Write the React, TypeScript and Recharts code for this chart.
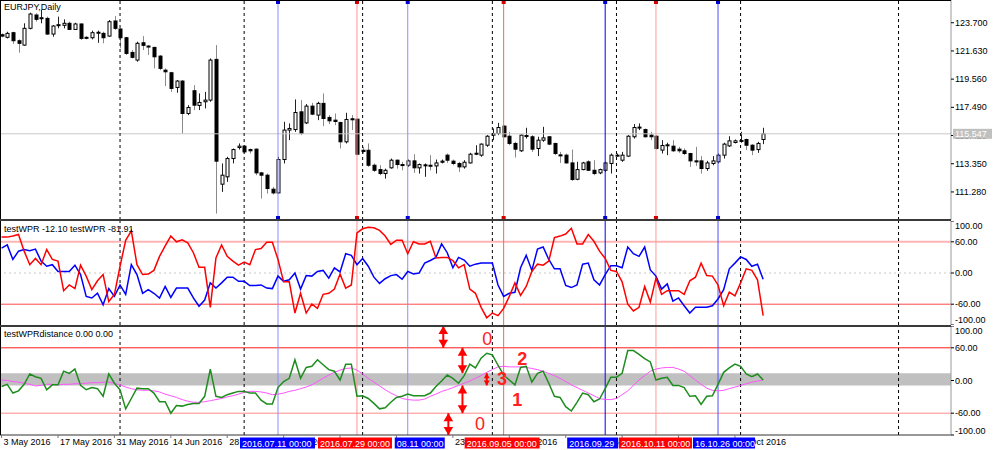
import React from "react"
import {
  ComposedChart, Bar, Line, XAxis, YAxis, ReferenceLine, ReferenceArea, ReferenceDot,
} from "recharts"

// ---- price panel (EURJPY daily, one entry per bar) ----
const opens = [
  122.82, 122.63, 122.97, 122.38, 122.06, 123.29, 124.27, 124.02, 124.02, 122.87,
  123.51, 123.51, 123.66, 123.21, 123.61, 122.63, 122.60, 122.95, 122.92, 122.72,
  123.83, 123.24, 122.60, 121.52, 120.96, 122.23, 121.99, 121.89, 121.25, 120.22,
  120.03, 118.95, 119.42, 117.04, 118.71, 117.63, 117.90, 118.02, 121.01, 111.85,
  112.39, 113.73, 114.54, 114.64, 114.39, 114.42, 112.68, 112.51, 111.48, 111.21,
  113.66, 115.82, 115.86, 117.16, 116.35, 117.58, 116.92, 117.78, 116.75, 116.55,
  116.38, 114.96, 116.65, 116.62, 114.34, 114.34, 113.24, 112.92, 112.63, 113.05,
  113.61, 113.29, 113.24, 113.56, 113.05, 113.22, 113.24, 113.19, 113.46, 113.98,
  113.54, 113.37, 113.12, 113.41, 114.08, 113.98, 114.71, 115.45, 115.57, 116.11,
  115.37, 114.84, 114.30, 115.37, 115.33, 114.47, 115.08, 115.33, 114.84, 114.00,
  113.98, 113.41, 112.21, 112.92, 113.49, 112.87, 112.68, 112.87, 113.37, 113.93,
  113.61, 113.91, 115.33, 115.99, 115.86, 115.45, 115.37, 114.35, 114.69, 114.64,
  114.42, 114.30, 114.10, 113.56, 113.56, 113.00, 113.37, 113.49, 113.98, 114.66,
  114.91, 115.01, 115.13, 114.71, 114.39, 115.13,
]
const highs = [
  122.92, 123.04, 123.04, 122.48, 123.66, 124.44, 124.39, 124.64, 124.15, 123.53,
  124.15, 123.95, 123.78, 123.70, 123.66, 122.72, 123.12, 123.12, 123.04, 123.90,
  124.19, 123.29, 122.67, 121.70, 122.31, 122.72, 122.06, 121.94, 121.33, 120.35,
  120.10, 119.49, 119.49, 117.65, 119.12, 118.51, 118.63, 121.08, 122.06, 113.37,
  113.86, 114.47, 114.84, 114.71, 114.47, 114.47, 112.75, 112.63, 111.65, 113.86,
  116.43, 116.31, 118.07, 118.02, 117.73, 117.82, 117.90, 118.51, 116.92, 117.04,
  116.43, 117.09, 116.92, 116.67, 114.59, 114.84, 113.37, 113.24, 112.99, 113.73,
  113.66, 113.49, 113.66, 114.05, 113.37, 113.37, 113.98, 113.66, 113.66, 114.10,
  113.66, 113.49, 113.61, 114.15, 114.71, 114.84, 115.45, 115.94, 116.35, 116.18,
  115.69, 114.96, 115.50, 115.99, 115.45, 115.33, 116.06, 115.37, 114.89, 114.22,
  114.10, 114.39, 113.49, 113.49, 113.61, 113.61, 112.99, 113.49, 114.10, 114.10,
  114.22, 115.45, 116.26, 116.31, 115.94, 115.69, 115.45, 115.08, 114.89, 115.08,
  114.59, 114.47, 114.15, 114.59, 113.91, 113.56, 113.91, 114.10, 114.89, 115.37,
  115.13, 115.69, 115.20, 114.79, 114.96, 115.99,
]
const lows = [
  122.63, 122.55, 122.14, 121.50, 122.01, 123.21, 123.78, 123.66, 122.80, 122.67,
  123.29, 123.29, 123.17, 123.17, 122.43, 122.48, 122.48, 122.23, 122.19, 122.67,
  123.17, 121.82, 121.33, 121.08, 120.84, 121.70, 121.33, 120.35, 120.22, 119.05,
  118.63, 118.56, 115.57, 116.92, 117.29, 117.29, 117.41, 117.90, 109.69, 111.28,
  112.02, 113.37, 114.39, 114.10, 114.10, 112.51, 110.79, 111.16, 111.09, 111.16,
  113.37, 115.08, 115.69, 115.45, 116.26, 116.92, 116.55, 116.11, 116.26, 116.18,
  114.47, 114.84, 115.82, 113.98, 114.10, 113.12, 112.75, 112.51, 112.26, 112.99,
  112.99, 112.87, 113.12, 112.68, 112.63, 112.39, 112.87, 112.63, 113.37, 113.41,
  113.24, 112.75, 112.99, 113.37, 113.98, 113.86, 114.59, 115.08, 115.45, 115.28,
  114.71, 113.81, 114.22, 115.20, 114.22, 113.91, 114.96, 114.71, 113.98, 113.41,
  113.37, 112.09, 112.14, 112.87, 112.83, 112.51, 112.58, 112.75, 112.63, 113.86,
  113.49, 113.86, 115.20, 115.82, 115.28, 115.08, 114.39, 114.10, 113.98, 114.22,
  114.15, 113.98, 113.12, 113.19, 112.63, 112.83, 113.24, 113.37, 113.73, 114.59,
  114.84, 114.89, 114.35, 113.98, 114.15, 114.79,
]
const closes = [
  122.72, 122.92, 122.38, 122.19, 123.29, 124.34, 123.95, 124.07, 122.87, 123.46,
  123.56, 123.66, 123.21, 123.61, 122.55, 122.58, 122.97, 123.00, 122.60, 123.78,
  123.29, 122.60, 121.45, 121.16, 122.19, 122.04, 121.94, 121.20, 120.35, 120.10,
  118.88, 119.42, 117.04, 117.48, 117.65, 117.85, 118.02, 120.96, 113.54, 112.51,
  113.73, 114.39, 114.64, 114.22, 114.30, 112.68, 112.51, 111.53, 111.21, 113.66,
  115.82, 115.94, 117.11, 115.57, 117.58, 116.99, 117.78, 116.67, 116.50, 116.45,
  114.96, 116.60, 116.60, 114.05, 114.25, 113.24, 112.87, 112.63, 112.87, 113.61,
  113.29, 113.24, 113.56, 113.05, 113.29, 113.27, 113.22, 113.41, 113.54, 113.61,
  113.37, 113.12, 113.46, 114.05, 114.12, 114.79, 115.37, 115.57, 116.01, 115.33,
  114.84, 114.42, 115.45, 115.42, 114.42, 115.08, 115.25, 114.79, 114.10, 113.95,
  113.41, 112.19, 112.92, 113.41, 112.87, 112.63, 112.92, 113.41, 113.98, 113.98,
  113.98, 115.37, 116.01, 116.04, 115.33, 115.33, 114.47, 114.69, 114.74, 114.30,
  114.30, 114.10, 113.56, 113.49, 113.00, 113.41, 113.56, 113.98, 114.79, 115.03,
  115.03, 115.06, 114.71, 114.35, 114.84, 115.547,
]
const lastPrice = 115.547
const priceTicks = [111.28, 113.35, 115.42, 117.49, 119.56, 121.63, 123.7]

// ---- testWPR panel ----
const wprBlue = [
  48, 54, 26, 42, 45, 43, 46, 23, 13, 16,
  3, 3, 3, 15, -3, -45, -48, -39, -61, -30,
  -45, -23, -41, 16, -3, -39, -32, -39, -48, -26,
  -47, -29, -29, -29, -48, -64, -52, -19, -29, -19,
  -8, -8, -16, -16, -24, -24, -23, -29, -30, -6,
  -16, -13, 0, -31, -5, -6, 3, 5, -10, 10,
  2, 37, 34, 16, 28, 13, -8, -20, -11, -5,
  -3, -12, 3, -2, 0, 19, 24, 30, 56, 39,
  10, 30, 25, 13, 17, 19, 19, 19, -23, -45,
  -39, -37, 10, 34, 5, 46, 50, 26, 8, 8,
  -24, -28, -23, 17, 19, -13, -23, -3, 14, 14,
  10, 50, 37, 32, 50, 6, -6, -31, -21, -54,
  -48, -63, -77, -66, -66, -66, -63, -50, -32, 8,
  19, 31, 26, 13, 17, -12.1,
]
const wprRed = [
  69, 69, 71, 74, 42, 16, 28, 16, 45, 26,
  23, -34, -23, -30, 15, -6, -32, -15, -3, -55,
  -41, 13, 63, 81, 16, -3, -2, 5, 32, 52,
  71, 60, 64, 58, 39, 11, 11, -66, 29, 54,
  32, 23, 15, 21, 16, 45, 47, 59, 59, 26,
  -17, -17, -77, -39, -77, -60, -68, -41, -39, -31,
  -2, -29, -23, 77, 85, 88, 87, 82, 71, 55,
  63, 63, 37, 60, 56, 56, 61, 29, 30, 30,
  24, 10, 16, -31, -39, -66, -86, -77, -82, -68,
  -45, -19, -43, -26, 3, 17, 15, 23, 68, 71,
  75, 86, 56, 56, 74, 61, 42, 28, 5, 3,
  -17, -60, -73, -66, -26, -56, -10, -41, -34, -34,
  -34, -41, -15, -8, 19, -5, -6, -23, -63, -37,
  -44, -19, 8, 5, -13, -81.91,
]
const wprTicks = [-100, -60, 0, 60, 100]

// ---- testWPRdistance panel ----
const distGreen = [
  -11, -7, -23, -19, -7, 12, 7, 4, -17, -8,
  -8, 17, 13, 21, -9, -17, -13, -15, -29, 12,
  -5, -17, -52, -33, -14, -15, -15, -23, -39, -39,
  -60, -46, -47, -44, -42, -42, -29, 21, -29, -31,
  -26, -23, -20, -20, -23, -23, -36, -43, -43, -13,
  -2, 4, 38, 4, 24, 26, 38, 29, 20, 17,
  1, 30, 30, -29, -28, -33, -42, -52, -50, -40,
  -31, -29, -25, -28, -28, -28, -23, -11, -1, 10,
  4, -5, 9, 30, 23, 41, 50, 47, 28, 10,
  1, -8, 24, 26, -3, 13, 17, -5, -29, -31,
  -48, -56, -40, -23, -26, -39, -34, -15, 6, 6,
  13, 55, 55, 48, 40, 34, 1, 4, 6, -9,
  -9, -13, -29, -28, -44, -29, -28, -7, 15, 23,
  30, 26, 12, 7, 12, 1,
]
const distMa = [
  1, 0, -2, -3, -5, -7, -10, -9, -7, -7,
  -8, -7, -7, -6, -6, -5, -4, -4, -3, -3,
  -5, -8, -12, -15, -17, -18, -18, -19, -21, -25,
  -28, -31, -35, -38, -40, -40, -39, -37, -35, -33,
  -30, -28, -25, -22, -20, -20, -21, -23, -26, -25,
  -23, -20, -18, -15, -12, -8, -2, 4, 10, 15,
  19, 22, 23, 19, 12, 4, -3, -10, -17, -23,
  -28, -33, -35, -36, -36, -34, -29, -25, -20, -17,
  -13, -9, -5, -1, 4, 9, 15, 20, 25, 26,
  25, 25, 25, 24, 22, 20, 17, 13, 9, 4,
  -2, -8, -13, -18, -23, -28, -33, -35, -35, -33,
  -26, -19, -9, 1, 9, 17, 21, 23, 24, 24,
  21, 17, 9, 1, -7, -14, -18, -19, -18, -15,
  -12, -9, -6, -3, -1, 1,
]
const bandTop = 13.5
const bandBottom = -9

// ---- time axis ----
const tickIdx = [0, 10, 20, 30, 40, 50, 60, 70, 80, 90, 100, 110, 120, 130]
const tickLabels = [
  "3 May 2016", "17 May 2016", "31 May 2016", "14 Jun 2016", "28 Jun 2016", "12 Jul 2016",
  "26 Jul 2016", "9 Aug 2016", "23 Aug 2016", "6 Sep 2016", "20 Sep 2016", "4 Oct 2016",
  "17 Oct 2016", "31 Oct 2016",
]
const monthSeps = [21, 43, 64, 87, 109, 131, 159]

// vertical event lines
const eventIdx = [49, 63, 72, 89, 107, 116, 127]
const eventKind = ["buy", "sell", "buy", "sell", "buy", "sell", "buy"]
const eventText = [
  "2016.07.11 00:00", "2016.07.29 00:00", "08.11 00:00", "2016.09.05 00:00",
  "2016.09.29", "2016.10.11 00:00", "16.10.26 00:00",
]

// hand-drawn annotations in the distance panel
const arrowX = [78.3, 81.7, 86.0, 81.7, 79.2]
const arrowFrom = [100, 60, bandTop, bandBottom, -60]
const arrowTo = [60, bandTop, bandBottom, -60, -100]
const noteText = ["0", "2", "3", "1", "0"]
const noteX = [86.1, 92.3, 88.7, 91.4, 84.8]
const noteY = [77.7, 40, 3, -34, -78.8]

// ---- styling ----
const X_DOMAIN = [-0.28, 168.3]
const PRICE_DOMAIN = [109.22, 125.37]
const AXIS_W = 49
const FONT = "'Liberation Sans', Arial, sans-serif"
const lineTone = ["#8c8cff", "#ff9090", "#8c8cff", "#ff6060", "#0000ff", "#ff9c9c", "#5050ff"]
const boxDx = [-38, -39, -13, -39, -38, -37, -25]
const boxW = [75, 74, 50, 75, 51, 73, 62]
const arrowHead = [8, 8, 5, 8, 8]
const noteBold = [false, true, true, true, false]

const candles = opens.map((o, i) => ({ i, o, h: highs[i], l: lows[i], c: closes[i] }))
const wpr = wprBlue.map((b, i) => ({ i, blue: b, red: wprRed[i] }))
const dist = distGreen.map((g, i) => ({ i, green: g, ma: distMa[i] }))

const Candle = (props: any) => {
  const { x, y, width, height, payload } = props
  if (x == null || payload == null) return null
  const cx = Math.round(x + width / 2) + 0.5
  const top = Math.min(y, y + height)
  const bot = Math.max(y, y + height)
  const k = payload.h > payload.l ? (bot - top) / (payload.h - payload.l) : 0
  const yO = top + (payload.h - payload.o) * k
  const yC = top + (payload.h - payload.c) * k
  const bull = payload.c >= payload.o
  const bt = Math.min(yO, yC)
  const bh = Math.max(Math.abs(yO - yC), 1)
  return (
    <g>
      <line x1={cx} x2={cx} y1={top} y2={bot} stroke={bull ? "#222" : "#8a8a8a"} strokeWidth={1} />
      <rect x={cx - 1.5} y={bt} width={3} height={bh} fill={bull ? "#fff" : "#000"} stroke="#000" strokeWidth={1} />
    </g>
  )
}

const rightTick = (digits: number, minY: number, maxY: number) => (p: any) => {
  const ty = Math.min(Math.max(p.y, minY), maxY)
  return (
    <text x={p.x} y={ty} dy="0.35em" textAnchor="start" fontSize={9} fill="#000">
      {Number(p.payload.value).toFixed(digits)}
    </text>
  )
}

const timeTick = (p: any) => {
  const k = tickIdx.indexOf(p.payload.value)
  return (
    <text x={p.x + 2} y={p.y} dy="0.71em" textAnchor="start" fontSize={9} fill="#000">
      {k >= 0 ? tickLabels[k] : ""}
    </text>
  )
}

const Squares = (p: any) => {
  const { x, y, height } = p.viewBox
  const fill = p.kind === "buy" ? "#0000d0" : "#d00000"
  return (
    <g>
      <rect x={x - 2} y={y} width={4} height={4} fill={fill} />
      <rect x={x - 2} y={y + height - 4} width={4} height={4} fill={fill} />
    </g>
  )
}

const TimeBox = (p: any) => {
  const { x, y, height } = p.viewBox
  const fill = p.kind === "buy" ? "#0000ff" : "#ff0000"
  const bx = x + p.dx
  const by = y + height + 2.5
  return (
    <g>
      <rect x={bx} y={by} width={p.w} height={11} fill={fill} />
      <text x={bx + 2} y={by + 9} fontSize={9} fill="#fff">{p.text}</text>
    </g>
  )
}

const PriceBox = (p: any) => {
  const { x, y, width } = p.viewBox
  return (
    <g>
      <rect x={x + width + 2} y={y - 5} width={39} height={10} fill="#c0c0c0" />
      <text x={x + width + 4} y={y + 3.5} fontSize={9} fill="#fff">{lastPrice.toFixed(3)}</text>
    </g>
  )
}

const head = (dir: number, size: number) => (p: any) => (
  <polygon
    points={`${p.cx},${p.cy} ${p.cx - size * 0.6},${p.cy + dir * size} ${p.cx + size * 0.6},${p.cy + dir * size}`}
    fill="#ff0000"
  />
)

const note = (text: string, bold: boolean) => (p: any) => (
  <text x={p.cx} y={p.cy} dy="0.36em" textAnchor="middle" fontSize={18}
    fontWeight={bold ? "bold" : "normal"} fill="#ff2020">{text}</text>
)

function separators() {
  return monthSeps.map((i) => (
    <ReferenceLine key={"s" + i} x={i} stroke="#000" strokeDasharray="3 3" />
  ))
}

const legend: React.CSSProperties = {
  position: "absolute", left: 4, fontSize: 9, lineHeight: "10px", color: "#000", whiteSpace: "nowrap",
}
const layer = (top: number): React.CSSProperties => ({ position: "absolute", left: 0, top })

export default function App() {
  return (
    <div style={{ position: "absolute", left: 0, top: 0, width: 1000, height: 450, background: "#fff", overflow: "hidden", fontFamily: FONT }}>
      {/* main price panel */}
      <div style={layer(0)}>
        <ComposedChart width={1000} height={220} data={candles} margin={{ top: 0, right: 0, bottom: 0, left: 0 }}>
          <XAxis type="number" dataKey="i" domain={X_DOMAIN} allowDataOverflow hide />
          <YAxis orientation="right" domain={PRICE_DOMAIN} ticks={priceTicks} allowDataOverflow interval={0}
            width={AXIS_W} tickSize={3} tickMargin={1} axisLine={{ stroke: "#999" }} tickLine={{ stroke: "#000" }}
            tick={rightTick(3, 5, 215)} />
          <ReferenceLine y={lastPrice} stroke="#c8c8c8" />
          <Bar dataKey={(d: any) => [d.l, d.h]} shape={<Candle />} barSize={4} isAnimationActive={false} />
          {separators()}
          {eventIdx.map((i, k) => (
            <ReferenceLine key={"e" + i} x={i} stroke={lineTone[k]} strokeWidth={1}
              label={<Squares kind={eventKind[k]} />} />
          ))}
        </ComposedChart>
      </div>

      {/* testWPR panel */}
      <div style={layer(221)}>
        <ComposedChart width={1000} height={104} data={wpr} margin={{ top: 0, right: 0, bottom: 0, left: 0 }}>
          <XAxis type="number" dataKey="i" domain={X_DOMAIN} allowDataOverflow hide />
          <YAxis orientation="right" domain={[-100, 100]} ticks={wprTicks} allowDataOverflow interval={0}
            width={AXIS_W} tickSize={3} tickMargin={1} axisLine={{ stroke: "#999" }} tickLine={{ stroke: "#000" }}
            tick={rightTick(2, 4.5, 99)} />
          <ReferenceLine y={60} stroke="#ffb4b4" strokeWidth={2} />
          <ReferenceLine y={0} stroke="#c8c8c8" strokeDasharray="2 3" />
          <ReferenceLine y={-60} stroke="#ff4a4a" />
          {separators()}
          {eventIdx.map((i, k) => (
            <ReferenceLine key={"e" + i} x={i} stroke={lineTone[k]} />
          ))}
          <Line dataKey="blue" stroke="#0000ff" strokeWidth={1.5} dot={false} isAnimationActive={false} />
          <Line dataKey="red" stroke="#ff0000" strokeWidth={1.5} dot={false} isAnimationActive={false} />
        </ComposedChart>
      </div>

      {/* testWPRdistance panel */}
      <div style={layer(326)}>
        <ComposedChart width={1000} height={124} data={dist} margin={{ top: 0, right: 0, bottom: 0, left: 0 }}>
          <XAxis type="number" dataKey="i" domain={X_DOMAIN} allowDataOverflow ticks={tickIdx} interval={0}
            height={15} tickSize={3} tickMargin={1} axisLine={{ stroke: "#333" }} tickLine={{ stroke: "#777" }}
            tick={timeTick} />
          <YAxis orientation="right" domain={[-100, 100]} ticks={wprTicks} allowDataOverflow interval={0}
            width={AXIS_W} tickSize={3} tickMargin={1} axisLine={{ stroke: "#999" }} tickLine={{ stroke: "#000" }}
            tick={rightTick(2, 5, 104.5)} />
          <ReferenceArea y1={bandBottom} y2={bandTop} fill="#c0c0c0" fillOpacity={1} stroke="none" />
          <ReferenceLine y={60} stroke="#ff1a1a" />
          <ReferenceLine y={-60} stroke="#ff8a8a" />
          {separators()}
          {eventIdx.map((i, k) => (
            <ReferenceLine key={"e" + i} x={i} stroke={lineTone[k]} />
          ))}
          <Line dataKey="ma" stroke="#ff55ff" strokeWidth={1} dot={false} isAnimationActive={false} />
          <Line dataKey="green" stroke="#1e8c1e" strokeWidth={1.5} dot={false} isAnimationActive={false} />
          {arrowX.map((x, k) => (
            <ReferenceLine key={"a" + k} ifOverflow="visible" stroke="#ff0000" strokeWidth={2}
              segment={[{ x, y: arrowFrom[k] }, { x, y: arrowTo[k] }]} />
          ))}
          {arrowX.map((x, k) => (
            <ReferenceDot key={"ht" + k} x={x} y={arrowFrom[k]} ifOverflow="visible" shape={head(1, arrowHead[k])} />
          ))}
          {arrowX.map((x, k) => (
            <ReferenceDot key={"hb" + k} x={x} y={arrowTo[k]} ifOverflow="visible" shape={head(-1, arrowHead[k])} />
          ))}
          {noteText.map((t, k) => (
            <ReferenceDot key={"n" + k} x={noteX[k]} y={noteY[k]} ifOverflow="visible" shape={note(t, noteBold[k])} />
          ))}
        </ComposedChart>
      </div>

      {/* overlay layers: time-axis event tags and the price tag sit above the axis labels */}
      <div style={layer(326)}>
        <ComposedChart width={1000} height={124} data={dist} margin={{ top: 0, right: AXIS_W, bottom: 15, left: 0 }}>
          <XAxis type="number" dataKey="i" domain={X_DOMAIN} allowDataOverflow hide />
          <YAxis domain={[-100, 100]} allowDataOverflow hide />
          {eventIdx.map((i, k) => (
            <ReferenceLine key={"t" + i} x={i} strokeOpacity={0}
              label={<TimeBox kind={eventKind[k]} text={eventText[k]} dx={boxDx[k]} w={boxW[k]} />} />
          ))}
        </ComposedChart>
      </div>
      <div style={layer(0)}>
        <ComposedChart width={1000} height={220} data={candles} margin={{ top: 0, right: AXIS_W, bottom: 0, left: 0 }}>
          <XAxis type="number" dataKey="i" domain={X_DOMAIN} allowDataOverflow hide />
          <YAxis domain={PRICE_DOMAIN} allowDataOverflow hide />
          <ReferenceLine y={lastPrice} strokeOpacity={0} label={<PriceBox />} />
        </ComposedChart>
      </div>

      {/* frame and panel separators */}
      <div style={{ position: "absolute", left: 0, top: 0, width: 951, height: 435, borderLeft: "1px solid #000", borderTop: "1px solid #000", boxSizing: "border-box", pointerEvents: "none" }} />
      <div style={{ position: "absolute", left: 0, top: 219, width: 951, height: 2, background: "#3a3a3a" }} />
      <div style={{ position: "absolute", left: 0, top: 325, width: 951, height: 2, background: "#3a3a3a" }} />

      {/* indicator captions */}
      <div style={{ ...legend, top: 2 }}>EURJPY,Daily</div>
      <div style={{ ...legend, top: 223.5 }}>testWPR -12.10 testWPR -81.91</div>
      <div style={{ ...legend, top: 329 }}>testWPRdistance 0.00 0.00</div>
    </div>
  )
}
